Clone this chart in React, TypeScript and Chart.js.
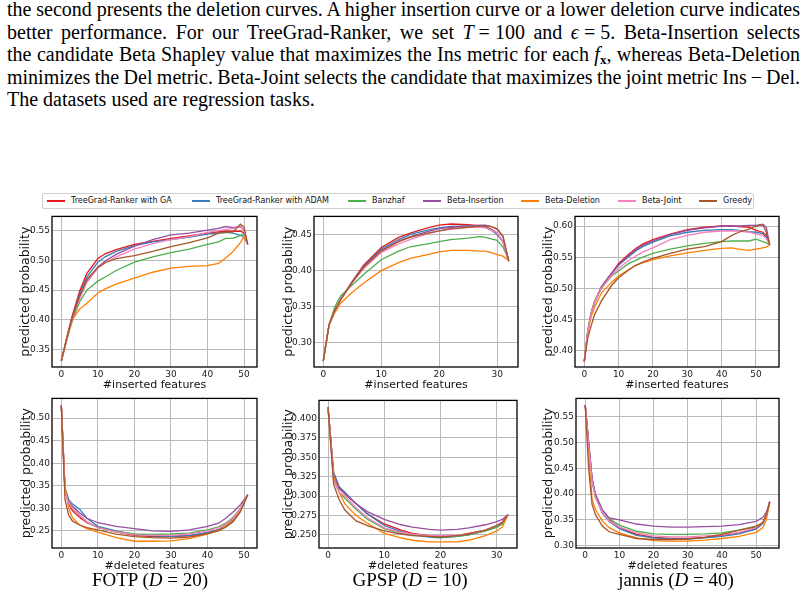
import React, { useEffect, useRef } from "react";
import { Chart, registerables } from "chart.js";

Chart.register(...registerables);

// ---- series ----
const SERIES = [
  "TreeGrad-Ranker with GA",
  "TreeGrad-Ranker with ADAM",
  "Banzhaf",
  "Beta-Insertion",
  "Beta-Deletion",
  "Beta-Joint",
  "Greedy",
];
const COLORS = ["#e41a1c", "#377eb8", "#4daf4a", "#984ea3", "#ff7f00", "#f781bf", "#a65628"];

// ---- FOTP, insertion ----
const FOTP_INS_X = [0, 1, 2, 3, 5, 7, 10, 12, 15, 20, 25, 30, 35, 40, 43, 45, 47, 49, 50, 51];
const FOTP_INS_GA = [0.331, 0.357, 0.383, 0.407, 0.448, 0.478, 0.503, 0.511, 0.518, 0.527, 0.532, 0.537, 0.541, 0.546, 0.548, 0.549, 0.549, 0.549, 0.546, 0.527];
const FOTP_INS_ADAM = [0.331, 0.356, 0.381, 0.404, 0.443, 0.472, 0.497, 0.506, 0.515, 0.525, 0.531, 0.535, 0.539, 0.544, 0.546, 0.547, 0.546, 0.542, 0.540, 0.527];
const FOTP_INS_BANZHAF = [0.331, 0.354, 0.377, 0.398, 0.430, 0.450, 0.465, 0.472, 0.483, 0.497, 0.506, 0.513, 0.519, 0.527, 0.531, 0.537, 0.537, 0.542, 0.545, 0.527];
const FOTP_INS_BETA_INS = [0.331, 0.355, 0.380, 0.402, 0.437, 0.465, 0.489, 0.499, 0.510, 0.524, 0.535, 0.543, 0.546, 0.551, 0.554, 0.557, 0.555, 0.557, 0.551, 0.527];
const FOTP_INS_BETA_DEL = [0.331, 0.357, 0.383, 0.400, 0.418, 0.428, 0.445, 0.452, 0.460, 0.470, 0.480, 0.487, 0.490, 0.491, 0.495, 0.504, 0.515, 0.530, 0.540, 0.530];
const FOTP_INS_BETA_JOINT = [0.331, 0.355, 0.379, 0.400, 0.435, 0.463, 0.487, 0.496, 0.506, 0.519, 0.528, 0.535, 0.540, 0.547, 0.550, 0.552, 0.554, 0.556, 0.552, 0.527];
const FOTP_INS_GREEDY = [0.331, 0.356, 0.381, 0.403, 0.440, 0.468, 0.488, 0.496, 0.503, 0.508, 0.515, 0.523, 0.530, 0.538, 0.546, 0.547, 0.548, 0.561, 0.556, 0.527];

// ---- GPSP, insertion ----
const GPSP_INS_X = [0, 1, 2, 3, 5, 7, 10, 13, 15, 18, 20, 22, 25, 27, 28, 29, 30, 31, 32];
const GPSP_INS_GA = [0.275, 0.325, 0.345, 0.360, 0.385, 0.408, 0.432, 0.446, 0.452, 0.459, 0.463, 0.4645, 0.4635, 0.462, 0.461, 0.457, 0.452, 0.440, 0.413];
const GPSP_INS_ADAM = [0.275, 0.325, 0.345, 0.360, 0.384, 0.406, 0.430, 0.443, 0.450, 0.456, 0.459, 0.461, 0.462, 0.461, 0.460, 0.456, 0.450, 0.440, 0.413];
const GPSP_INS_BANZHAF = [0.275, 0.326, 0.350, 0.365, 0.380, 0.395, 0.415, 0.427, 0.433, 0.437, 0.440, 0.443, 0.445, 0.447, 0.446, 0.444, 0.442, 0.433, 0.414];
const GPSP_INS_BETA_INS = [0.275, 0.325, 0.345, 0.360, 0.384, 0.405, 0.428, 0.441, 0.447, 0.454, 0.458, 0.460, 0.462, 0.463, 0.463, 0.461, 0.457, 0.447, 0.414];
const GPSP_INS_BETA_DEL = [0.275, 0.325, 0.342, 0.355, 0.370, 0.383, 0.400, 0.411, 0.417, 0.422, 0.426, 0.428, 0.428, 0.427, 0.427, 0.425, 0.422, 0.420, 0.414];
const GPSP_INS_BETA_JOINT = [0.275, 0.325, 0.345, 0.360, 0.383, 0.403, 0.425, 0.437, 0.443, 0.451, 0.455, 0.457, 0.460, 0.460, 0.459, 0.456, 0.452, 0.440, 0.413];
const GPSP_INS_GREEDY = [0.275, 0.325, 0.345, 0.360, 0.384, 0.405, 0.427, 0.440, 0.446, 0.452, 0.455, 0.458, 0.460, 0.462, 0.462, 0.461, 0.458, 0.448, 0.413];

// ---- jannis, insertion ----
const JANNIS_INS_X = [0, 1, 2, 3, 5, 8, 10, 13, 15, 17, 20, 25, 30, 35, 40, 43, 45, 48, 50, 52, 53, 54];
const JANNIS_INS_GA = [0.383, 0.430, 0.460, 0.478, 0.503, 0.525, 0.540, 0.555, 0.564, 0.571, 0.578, 0.587, 0.594, 0.598, 0.600, 0.600, 0.599, 0.598, 0.593, 0.590, 0.585, 0.570];
const JANNIS_INS_ADAM = [0.383, 0.430, 0.460, 0.478, 0.502, 0.524, 0.537, 0.551, 0.560, 0.567, 0.574, 0.584, 0.590, 0.593, 0.594, 0.594, 0.593, 0.591, 0.590, 0.588, 0.582, 0.570];
const JANNIS_INS_BANZHAF = [0.383, 0.432, 0.462, 0.480, 0.500, 0.520, 0.528, 0.540, 0.545, 0.550, 0.556, 0.563, 0.568, 0.572, 0.575, 0.576, 0.576, 0.576, 0.579, 0.575, 0.573, 0.570];
const JANNIS_INS_BETA_INS = [0.383, 0.430, 0.460, 0.478, 0.502, 0.524, 0.538, 0.553, 0.562, 0.569, 0.576, 0.586, 0.593, 0.597, 0.600, 0.600, 0.600, 0.601, 0.601, 0.603, 0.598, 0.570];
const JANNIS_INS_BETA_DEL = [0.383, 0.428, 0.455, 0.470, 0.493, 0.510, 0.520, 0.530, 0.537, 0.541, 0.546, 0.552, 0.557, 0.561, 0.564, 0.565, 0.563, 0.561, 0.563, 0.565, 0.566, 0.570];
const JANNIS_INS_BETA_JOINT = [0.383, 0.430, 0.460, 0.478, 0.501, 0.521, 0.532, 0.545, 0.552, 0.558, 0.565, 0.578, 0.585, 0.590, 0.592, 0.592, 0.592, 0.590, 0.587, 0.585, 0.580, 0.570];
const JANNIS_INS_GREEDY = [0.383, 0.420, 0.440, 0.458, 0.480, 0.505, 0.517, 0.530, 0.537, 0.542, 0.548, 0.556, 0.563, 0.567, 0.575, 0.585, 0.590, 0.595, 0.600, 0.602, 0.590, 0.570];

// ---- FOTP, deletion ----
const FOTP_DEL_X = [0, 1, 2, 3, 5, 7, 10, 15, 20, 25, 30, 35, 40, 43, 45, 47, 49, 51];
const FOTP_DEL_GA = [0.528, 0.340, 0.310, 0.295, 0.280, 0.268, 0.258, 0.248, 0.240, 0.237, 0.237, 0.239, 0.246, 0.252, 0.260, 0.273, 0.295, 0.330];
const FOTP_DEL_ADAM = [0.528, 0.345, 0.320, 0.310, 0.298, 0.278, 0.260, 0.250, 0.242, 0.239, 0.238, 0.240, 0.246, 0.253, 0.262, 0.275, 0.297, 0.330];
const FOTP_DEL_BANZHAF = [0.528, 0.340, 0.312, 0.300, 0.285, 0.270, 0.257, 0.248, 0.243, 0.242, 0.243, 0.245, 0.252, 0.259, 0.267, 0.280, 0.300, 0.330];
const FOTP_DEL_BETA_INS = [0.528, 0.340, 0.315, 0.305, 0.290, 0.278, 0.268, 0.260, 0.255, 0.250, 0.249, 0.252, 0.260, 0.267, 0.278, 0.292, 0.308, 0.330];
const FOTP_DEL_BETA_DEL = [0.528, 0.350, 0.300, 0.280, 0.263, 0.255, 0.247, 0.235, 0.227, 0.227, 0.228, 0.233, 0.243, 0.251, 0.260, 0.273, 0.295, 0.330];
const FOTP_DEL_BETA_JOINT = [0.528, 0.338, 0.312, 0.300, 0.285, 0.270, 0.257, 0.248, 0.241, 0.240, 0.240, 0.243, 0.250, 0.257, 0.265, 0.278, 0.298, 0.330];
const FOTP_DEL_GREEDY = [0.528, 0.320, 0.285, 0.272, 0.263, 0.257, 0.252, 0.243, 0.237, 0.235, 0.234, 0.236, 0.244, 0.250, 0.258, 0.270, 0.292, 0.330];

// ---- GPSP, deletion ----
const GPSP_DEL_X = [0, 1, 2, 3, 5, 7, 10, 13, 15, 18, 20, 23, 25, 28, 30, 31, 32];
const GPSP_DEL_GA = [0.415, 0.330, 0.310, 0.303, 0.290, 0.277, 0.264, 0.256, 0.252, 0.249, 0.248, 0.249, 0.252, 0.256, 0.262, 0.266, 0.276];
const GPSP_DEL_ADAM = [0.415, 0.330, 0.312, 0.305, 0.290, 0.277, 0.262, 0.254, 0.250, 0.247, 0.246, 0.248, 0.250, 0.255, 0.260, 0.265, 0.276];
const GPSP_DEL_BANZHAF = [0.415, 0.320, 0.305, 0.297, 0.283, 0.270, 0.258, 0.252, 0.250, 0.248, 0.247, 0.248, 0.250, 0.255, 0.260, 0.264, 0.276];
const GPSP_DEL_BETA_INS = [0.415, 0.325, 0.310, 0.303, 0.290, 0.280, 0.270, 0.263, 0.260, 0.257, 0.256, 0.257, 0.259, 0.263, 0.267, 0.270, 0.276];
const GPSP_DEL_BETA_DEL = [0.415, 0.325, 0.305, 0.290, 0.275, 0.265, 0.252, 0.246, 0.243, 0.241, 0.241, 0.241, 0.243, 0.249, 0.255, 0.260, 0.276];
const GPSP_DEL_BETA_JOINT = [0.415, 0.320, 0.305, 0.300, 0.285, 0.272, 0.259, 0.253, 0.251, 0.249, 0.249, 0.250, 0.251, 0.256, 0.262, 0.266, 0.276];
const GPSP_DEL_GREEDY = [0.415, 0.315, 0.295, 0.282, 0.268, 0.262, 0.255, 0.251, 0.249, 0.248, 0.247, 0.249, 0.251, 0.256, 0.262, 0.266, 0.276];

// ---- jannis, deletion ----
const JANNIS_DEL_X = [0, 1, 2, 3, 5, 7, 10, 15, 20, 25, 30, 35, 40, 45, 50, 52, 53, 54];
const JANNIS_DEL_GA = [0.572, 0.500, 0.430, 0.395, 0.365, 0.350, 0.335, 0.322, 0.316, 0.314, 0.314, 0.316, 0.320, 0.325, 0.333, 0.345, 0.360, 0.385];
const JANNIS_DEL_ADAM = [0.572, 0.500, 0.430, 0.395, 0.363, 0.347, 0.333, 0.320, 0.315, 0.313, 0.313, 0.315, 0.318, 0.323, 0.332, 0.343, 0.358, 0.385];
const JANNIS_DEL_BANZHAF = [0.572, 0.495, 0.425, 0.393, 0.365, 0.352, 0.340, 0.328, 0.323, 0.322, 0.322, 0.323, 0.325, 0.330, 0.338, 0.345, 0.360, 0.385];
const JANNIS_DEL_BETA_INS = [0.572, 0.500, 0.430, 0.400, 0.370, 0.354, 0.350, 0.342, 0.338, 0.336, 0.336, 0.337, 0.338, 0.341, 0.347, 0.355, 0.365, 0.385];
const JANNIS_DEL_BETA_DEL = [0.572, 0.480, 0.390, 0.370, 0.348, 0.335, 0.325, 0.315, 0.310, 0.309, 0.309, 0.311, 0.314, 0.318, 0.326, 0.335, 0.350, 0.385];
const JANNIS_DEL_BETA_JOINT = [0.572, 0.495, 0.425, 0.393, 0.365, 0.348, 0.336, 0.325, 0.319, 0.317, 0.317, 0.319, 0.321, 0.326, 0.335, 0.345, 0.360, 0.385];
const JANNIS_DEL_GREEDY = [0.572, 0.450, 0.380, 0.360, 0.338, 0.327, 0.322, 0.314, 0.312, 0.312, 0.313, 0.316, 0.322, 0.330, 0.337, 0.345, 0.360, 0.385];

// ---- axis ticks ----
const X_TICKS_FOTP = [0, 10, 20, 30, 40, 50];
const X_TICKS_GPSP = [0, 10, 20, 30];
const X_TICKS_JANNIS = [0, 10, 20, 30, 40, 50];
const Y_TICKS_FOTP_INS = [0.35, 0.4, 0.45, 0.5, 0.55];
const Y_TICKS_GPSP_INS = [0.3, 0.35, 0.4, 0.45];
const Y_TICKS_JANNIS_INS = [0.4, 0.45, 0.5, 0.55, 0.6];
const Y_TICKS_FOTP_DEL = [0.25, 0.3, 0.35, 0.4, 0.45, 0.5];
const Y_TICKS_GPSP_DEL = [0.25, 0.275, 0.3, 0.325, 0.35, 0.375, 0.4];
const Y_TICKS_JANNIS_DEL = [0.3, 0.35, 0.4, 0.45, 0.5, 0.55];

const CAPTIONS = [
  { name: "FOTP", d: 20 },
  { name: "GPSP", d: 10 },
  { name: "jannis", d: 40 },
];

const SANS = '"DejaVu Sans", sans-serif';
const SERIF = '"Liberation Serif", "Times New Roman", serif';
const GRID = "#b9b9b9";
const PAD_T = 6;
const PAD_R = 6;
const X_AXIS_H = 25;
const MATH_SP = "\u2005";

type PanelSpec = {
  x: number[];
  ys: number[][];
  xMin: number;
  xMax: number;
  yMin: number;
  yMax: number;
  xTicks: number[];
  yTicks: number[];
  yDigits: number;
  xTitle: string;
  left: number;
  top: number;
  right: number;
  bottom: number;
  yAxisW: number;
};

const PANELS: PanelSpec[] = [
  {
    x: FOTP_INS_X,
    ys: [FOTP_INS_GA, FOTP_INS_ADAM, FOTP_INS_BANZHAF, FOTP_INS_BETA_INS, FOTP_INS_BETA_DEL, FOTP_INS_BETA_JOINT, FOTP_INS_GREEDY],
    xMin: -2.55, xMax: 53.55, yMin: 0.3205, yMax: 0.574,
    xTicks: X_TICKS_FOTP, yTicks: Y_TICKS_FOTP_INS, yDigits: 2, xTitle: "#inserted features",
    left: 52, top: 215, right: 257, bottom: 367, yAxisW: 34,
  },
  {
    x: GPSP_INS_X,
    ys: [GPSP_INS_GA, GPSP_INS_ADAM, GPSP_INS_BANZHAF, GPSP_INS_BETA_INS, GPSP_INS_BETA_DEL, GPSP_INS_BETA_JOINT, GPSP_INS_GREEDY],
    xMin: -1.6, xMax: 33.6, yMin: 0.2667, yMax: 0.475,
    xTicks: X_TICKS_GPSP, yTicks: Y_TICKS_GPSP_INS, yDigits: 2, xTitle: "#inserted features",
    left: 314, top: 215, right: 518, bottom: 367, yAxisW: 33,
  },
  {
    x: JANNIS_INS_X,
    ys: [JANNIS_INS_GA, JANNIS_INS_ADAM, JANNIS_INS_BANZHAF, JANNIS_INS_BETA_INS, JANNIS_INS_BETA_DEL, JANNIS_INS_BETA_JOINT, JANNIS_INS_GREEDY],
    xMin: -2.7, xMax: 56.7, yMin: 0.374, yMax: 0.6154,
    xTicks: X_TICKS_JANNIS, yTicks: Y_TICKS_JANNIS_INS, yDigits: 2, xTitle: "#inserted features",
    left: 575, top: 215, right: 779, bottom: 367, yAxisW: 34,
  },
  {
    x: FOTP_DEL_X,
    ys: [FOTP_DEL_GA, FOTP_DEL_ADAM, FOTP_DEL_BANZHAF, FOTP_DEL_BETA_INS, FOTP_DEL_BETA_DEL, FOTP_DEL_BETA_JOINT, FOTP_DEL_GREEDY],
    xMin: -2.55, xMax: 53.55, yMin: 0.212, yMax: 0.5437,
    xTicks: X_TICKS_FOTP, yTicks: Y_TICKS_FOTP_DEL, yDigits: 2, xTitle: "#deleted features",
    left: 52, top: 397, right: 257, bottom: 548, yAxisW: 33,
  },
  {
    x: GPSP_DEL_X,
    ys: [GPSP_DEL_GA, GPSP_DEL_ADAM, GPSP_DEL_BANZHAF, GPSP_DEL_BETA_INS, GPSP_DEL_BETA_DEL, GPSP_DEL_BETA_JOINT, GPSP_DEL_GREEDY],
    xMin: -1.6, xMax: 33.6, yMin: 0.233, yMax: 0.4235,
    xTicks: X_TICKS_GPSP, yTicks: Y_TICKS_GPSP_DEL, yDigits: 3, xTitle: "#deleted features",
    left: 319, top: 399, right: 517, bottom: 548, yAxisW: 38,
  },
  {
    x: JANNIS_DEL_X,
    ys: [JANNIS_DEL_GA, JANNIS_DEL_ADAM, JANNIS_DEL_BANZHAF, JANNIS_DEL_BETA_INS, JANNIS_DEL_BETA_DEL, JANNIS_DEL_BETA_JOINT, JANNIS_DEL_GREEDY],
    xMin: -2.7, xMax: 56.7, yMin: 0.2956, yMax: 0.585,
    xTicks: X_TICKS_JANNIS, yTicks: Y_TICKS_JANNIS_DEL, yDigits: 2, xTitle: "#deleted features",
    left: 576, top: 397, right: 779, bottom: 548, yAxisW: 35,
  },
];

// Black frame around the plotting area, drawn above the curves.
const framePlugin = {
  id: "frame",
  afterDatasetsDraw(chart: any) {
    const { ctx, chartArea } = chart;
    ctx.save();
    ctx.strokeStyle = "#000";
    ctx.lineWidth = 1.3;
    ctx.strokeRect(chartArea.left, chartArea.top, chartArea.right - chartArea.left, chartArea.bottom - chartArea.top);
    ctx.restore();
  },
};

function Panel({ spec }: { spec: PanelSpec }) {
  const ref = useRef<HTMLCanvasElement | null>(null);
  const width = spec.yAxisW + (spec.right - spec.left) + PAD_R;
  const height = PAD_T + (spec.bottom - spec.top) + X_AXIS_H;

  useEffect(() => {
    if (!ref.current) return;
    const tickFont = { family: SANS, size: 9 };
    const xTitleFont = { family: SANS, size: 11 };
    const yTitleFont = { family: SANS, size: 12.5 };
    const chart = new Chart(ref.current, {
      type: "line",
      data: {
        datasets: spec.ys.map((ys, i) => ({
          label: SERIES[i],
          data: spec.x.map((xv, j) => ({ x: xv, y: ys[j] })),
          borderColor: COLORS[i],
          backgroundColor: COLORS[i],
          borderWidth: 1.3,
          pointRadius: 0,
          tension: 0,
          fill: false,
          order: spec.ys.length - i,
        })),
      },
      options: {
        animation: false,
        responsive: false,
        maintainAspectRatio: false,
        layout: { padding: { top: PAD_T, right: PAD_R, left: 0, bottom: 0 } },
        plugins: { legend: { display: false }, tooltip: { enabled: false } },
        scales: {
          x: {
            type: "linear",
            min: spec.xMin,
            max: spec.xMax,
            afterBuildTicks: (s: any) => {
              s.ticks = spec.xTicks.map((v) => ({ value: v }));
            },
            afterFit: (s: any) => {
              s.height = X_AXIS_H;
            },
            grid: { color: GRID, lineWidth: 1, drawTicks: false },
            border: { display: false },
            ticks: {
              font: tickFont,
              color: "#222",
              padding: 2,
              maxRotation: 0,
              autoSkip: false,
              callback: (v: any) => String(v),
            },
            title: { display: true, text: spec.xTitle, font: xTitleFont, color: "#111", padding: 0 },
          },
          y: {
            type: "linear",
            min: spec.yMin,
            max: spec.yMax,
            afterBuildTicks: (s: any) => {
              s.ticks = spec.yTicks.map((v) => ({ value: v }));
            },
            afterFit: (s: any) => {
              s.width = spec.yAxisW;
            },
            grid: { color: GRID, lineWidth: 1, drawTicks: false },
            border: { display: false },
            ticks: {
              font: tickFont,
              color: "#222",
              padding: 2,
              autoSkip: false,
              callback: (v: any) => Number(v).toFixed(spec.yDigits),
            },
            title: { display: true, text: "predicted probability", font: yTitleFont, color: "#111", padding: 0 },
          },
        },
      },
      plugins: [framePlugin],
    } as any);
    return () => chart.destroy();
  }, [spec]);

  return (
    <canvas
      ref={ref}
      width={width}
      height={height}
      style={{
        position: "absolute",
        left: spec.left - spec.yAxisW,
        top: spec.top - PAD_T,
        width,
        height,
      }}
    />
  );
}

// Legend entries: swatch left edge for each series.
const LEGEND_X = [46, 191, 347, 422, 520, 617, 698];

function Legend() {
  return (
    <div
      style={{
        position: "absolute",
        left: 42,
        top: 193,
        width: 712,
        height: 16,
        border: "1px solid #d0d0d0",
        borderRadius: 2,
        boxSizing: "border-box",
        background: "#fff",
      }}
    >
      {SERIES.map((name, i) => (
        <React.Fragment key={name}>
          <div
            style={{
              position: "absolute",
              left: LEGEND_X[i] - 42,
              top: 6,
              width: 18,
              height: 2,
              background: COLORS[i],
            }}
          />
          <div
            style={{
              position: "absolute",
              left: LEGEND_X[i] - 42 + 24,
              top: 1,
              fontFamily: SANS,
              fontSize: 8,
              lineHeight: "12px",
              color: "#111",
              whiteSpace: "nowrap",
            }}
          >
            {name}
          </div>
        </React.Fragment>
      ))}
    </div>
  );
}

const lineStyle = (baseline: number, justify: boolean): React.CSSProperties => ({
  position: "absolute",
  left: 7,
  top: baseline - 16.75,
  width: 793,
  fontFamily: SERIF,
  fontSize: 20,
  lineHeight: "20px",
  color: "#000",
  wordSpacing: justify ? -4 : 0,
  textAlign: justify ? "justify" : "left",
  textAlignLast: justify ? "justify" : "left",
});

function Paragraph() {
  return (
    <>
      <div style={lineStyle(16, true)}>
        the second presents the deletion curves. A higher insertion curve or a lower deletion curve indicates
      </div>
      <div style={lineStyle(38.5, true)}>
        better performance. For our TreeGrad-Ranker, we set <i>T</i>
        {MATH_SP}={MATH_SP}100 and <i>ϵ</i>
        {MATH_SP}={MATH_SP}5. Beta-Insertion selects
      </div>
      <div style={lineStyle(61, true)}>
        the candidate Beta Shapley value that maximizes the Ins metric for each <i>f</i>
        <sub style={{ fontSize: 13, fontWeight: "bold", verticalAlign: "-3px" }}>x</sub>, whereas Beta-Deletion
      </div>
      <div style={lineStyle(83.5, true)}>
        minimizes the Del metric. Beta-Joint selects the candidate that maximizes the joint metric Ins{"\u2009"}−{"\u2009"}Del.
      </div>
      <div style={lineStyle(106, false)}>The datasets used are regression tasks.</div>
    </>
  );
}

const CAPTION_CENTERS = [150, 410, 676];

function Captions() {
  return (
    <>
      {CAPTIONS.map((c, i) => (
        <div
          key={c.name}
          style={{
            position: "absolute",
            left: CAPTION_CENTERS[i] - 100,
            width: 200,
            top: 570,
            textAlign: "center",
            fontFamily: SERIF,
            fontSize: 19,
            lineHeight: "20px",
            color: "#000",
            whiteSpace: "nowrap",
          }}
        >
          {c.name} (<i>D</i>
          {MATH_SP}={MATH_SP}
          {c.d})
        </div>
      ))}
    </>
  );
}

export default function App() {
  return (
    <div
      style={{
        position: "absolute",
        left: 0,
        top: 0,
        width: 804,
        height: 603,
        background: "#fff",
        overflow: "hidden",
      }}
    >
      <Paragraph />
      <Legend />
      {PANELS.map((p, i) => (
        <Panel key={i} spec={p} />
      ))}
      <Captions />
    </div>
  );
}
